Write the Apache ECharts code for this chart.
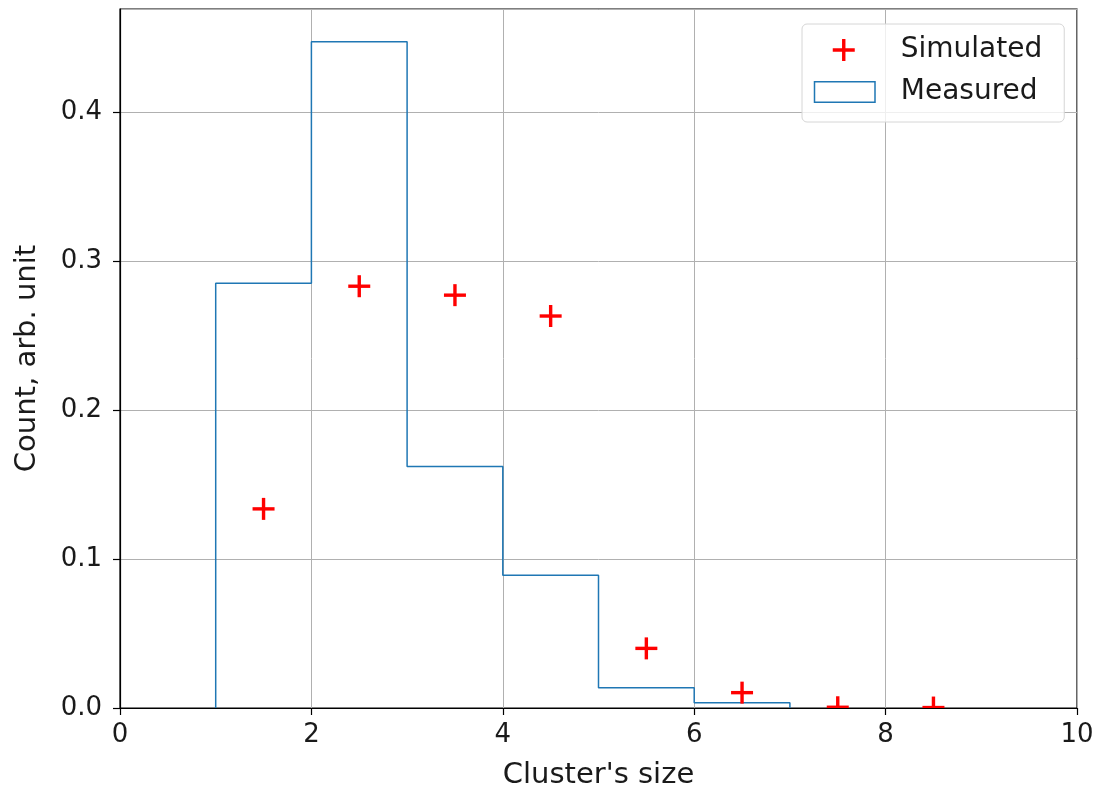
<!DOCTYPE html>
<html>
<head>
<meta charset="utf-8">
<script src="https://cdn.jsdelivr.net/npm/echarts@6/dist/echarts.min.js"></script>
<style>
html,body{margin:0;padding:0;background:#fff;}
#chart{width:1099px;height:788px;}
</style>
</head>
<body>
<div id="chart"></div>
<script>
// Data
const binEdges = [1, 2, 3, 4, 5, 6, 7];
const measured = [0.285, 0.447, 0.162, 0.089, 0.0136, 0.0036];
const simX = [1.5, 2.5, 3.5, 4.5, 5.5, 6.5, 7.5, 8.5];
const simY = [0.1336, 0.283, 0.277, 0.263, 0.040, 0.0103, 0.0005, 0.0003];
const xTicks = [0, 2, 4, 6, 8, 10];
const yTicks = [0.0, 0.1, 0.2, 0.3, 0.4];

const stepPts = [[binEdges[0], 0]];
measured.forEach((h, i) => { stepPts.push([binEdges[i], h]); stepPts.push([binEdges[i + 1], h]); });
stepPts.push([binEdges[binEdges.length - 1], 0]);

const scatterData = simX.map((x, i) => [x, simY[i]]);

const plusLegend = 'path://M0,0ZM82,22ZM28.3,0H31.7V9.3H41V12.7H31.7V22H28.3V12.7H19V9.3H28.3Z';
const rectLegend = 'path://M0,0ZM82,22ZM0.75,0.75H61.25V21.25H0.75Z';

const txt = '#1a1a1a';
const font = 'DejaVu Sans';
const RED = '#ff0000';
const BLUE = '#1f77b4';

const chart = echarts.init(document.getElementById('chart'), null, {renderer: 'canvas'});
chart.setOption({
  animation: false,
  backgroundColor: '#fff',
  grid: {left: 120, top: 9, right: 22, bottom: 80, show: true, borderColor: '#000', borderWidth: 1.2,
    containLabel: false, outerBoundsMode: 'none'},
  legend: {
    orient: 'vertical',
    left: 802, top: 24,
    padding: [12, 22, 16, 11],
    itemGap: 14,
    itemWidth: 82, itemHeight: 22,
    backgroundColor: 'rgba(255,255,255,0.8)',
    borderColor: '#d6d6d6', borderWidth: 1, borderRadius: 5,
    textStyle: {fontFamily: font, fontSize: 28, color: txt},
    data: [
      {name: 'Simulated', icon: plusLegend, itemStyle: {color: RED, borderWidth: 0}},
      {name: 'Measured', icon: rectLegend, itemStyle: {color: 'rgba(255,255,255,0)', borderColor: BLUE, borderWidth: 1.5}}
    ]
  },
  xAxis: {
    type: 'value', min: 0, max: 10, interval: 2,
    name: "Cluster's size", nameLocation: 'middle', nameGap: 53,
    nameTextStyle: {fontFamily: font, fontSize: 29, color: txt},
    axisLine: {show: true, onZero: false, lineStyle: {color: '#000', width: 1.2}},
    axisTick: {show: true, inside: false, length: 7, lineStyle: {color: '#000', width: 1.2}},
    axisLabel: {fontFamily: font, fontSize: 26, color: txt, margin: 14, formatter: v => xTicks.includes(v) ? String(v) : ''},
    splitLine: {show: true, lineStyle: {color: '#b0b0b0', width: 1}}
  },
  yAxis: {
    type: 'value', min: 0, max: 0.469, interval: 0.1,
    name: 'Count, arb. unit', nameLocation: 'middle', nameGap: 78,
    nameTextStyle: {fontFamily: font, fontSize: 29, color: txt},
    axisLine: {show: true, onZero: false, lineStyle: {color: '#000', width: 1.2}},
    axisTick: {show: true, inside: false, length: 7, lineStyle: {color: '#000', width: 1.2}},
    axisLabel: {fontFamily: font, fontSize: 26, color: txt, margin: 18, showMaxLabel: false,
      formatter: v => { const t = yTicks.find(y => Math.abs(y - v) < 1e-6); return t === undefined ? '' : t.toFixed(1); }},
    splitLine: {show: true, lineStyle: {color: '#b0b0b0', width: 1}}
  },
  series: [
    {
      name: 'Measured', type: 'line', data: stepPts, symbol: 'none', z: 3,
      lineStyle: {color: BLUE, width: 1.5},
      itemStyle: {color: BLUE}
    },
    {
      name: 'Simulated', type: 'custom', data: scatterData, z: 4, clip: true,
      itemStyle: {color: RED},
      encode: {x: 0, y: 1},
      renderItem: function (params, api) {
        const p = api.coord([api.value(0), api.value(1)]);
        const h = 11, t = 1.7;
        return {
          type: 'group',
          children: [
            {type: 'rect', shape: {x: p[0] - h, y: p[1] - t, width: 2 * h, height: 2 * t}, style: {fill: RED}},
            {type: 'rect', shape: {x: p[0] - t, y: p[1] - h, width: 2 * t, height: 2 * h}, style: {fill: RED}}
          ]
        };
      }
    }
  ]
});
</script>
</body>
</html>
